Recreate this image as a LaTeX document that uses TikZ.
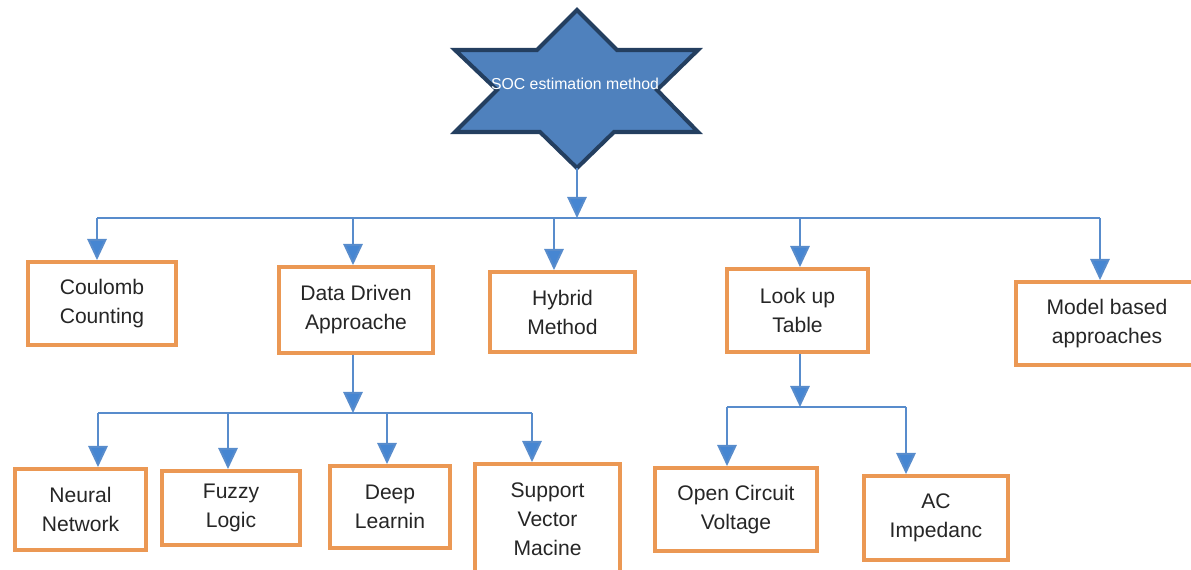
\documentclass[tikz,border=0pt]{standalone}
\usepackage{fontspec}
\setmainfont{Liberation Sans}
\usetikzlibrary{arrows.meta}
\definecolor{boxline}{RGB}{235,152,84}
\definecolor{linkblue}{RGB}{88,140,204}
\definecolor{tipblue}{RGB}{70,134,210}
\definecolor{starfill}{RGB}{79,129,189}
\definecolor{starline}{RGB}{36,63,96}
\begin{document}
\begin{tikzpicture}[x=0.02cm, y=-0.02cm,
  box/.style={draw=boxline, line width=2.2pt, fill=white, inner sep=0pt, align=center,
    minimum height=1.66cm, text=black!85, font=\fontsize{12}{16.5}\selectfont},
  link/.style={draw=linkblue, line width=1.1pt},
  arr/.style={link, -{Triangle[width=11pt, length=12pt, fill=tipblue]}}]
\useasboundingbox (0,0) rectangle (1191,570);

% the star on top
\draw[fill=starfill, draw=starline, line width=2.3pt]
  (577,10) -- (617,50) -- (698,50) -- (657,90) -- (698,132) -- (614,132) -- (577,168)
  -- (540,132) -- (455,132) -- (497,90) -- (455,50) -- (537,50) -- cycle;
\node[text=white, font=\fontsize{9}{11}\selectfont] (soc) at (575,84) {SOC estimation method};
\coordinate (socb) at (577,168);

% first level
\node[box, minimum width=2.96cm] (coul)  at (102,303.5)  {Coulomb\\ Counting};
\node[box, minimum width=3.08cm, minimum height=1.72cm] (data) at (356,310) {Data Driven\\ Approache};
\node[box, minimum width=2.90cm, minimum height=1.60cm] (hyb) at (562.5,312) {Hybrid\\ Method};
\node[box, minimum width=2.82cm] (look)  at (797.5,310.5) {Look up\\ Table};
\node[box, minimum width=3.64cm] (model) at (1107,323.5) {Model based\\ approaches};

% second level
\node[box, minimum width=2.62cm, minimum height=1.62cm] (neur) at (80.5,509.5) {Neural\\ Network};
\node[box, minimum width=2.76cm, minimum height=1.48cm] (fuzz) at (231,508)   {Fuzzy\\ Logic};
\node[box, minimum width=2.40cm, minimum height=1.64cm] (deep) at (390,507)   {Deep\\ Learnin};
\node[box, minimum width=2.90cm, minimum height=2.20cm] (svm)  at (547.5,519) {Support\\ Vector\\ Macine};
\node[box, minimum width=3.24cm] (ocv)   at (736,509.5) {Open Circuit\\ Voltage};
\node[box, minimum width=2.88cm, minimum height=1.68cm] (ac) at (936,518) {AC\\ Impedanc};

% main bus
\coordinate (b1) at (97,218);
\coordinate (b2) at (353,218);
\coordinate (b3) at (554,218);
\coordinate (b4) at (800,218);
\coordinate (b5) at (1100,218);
\draw[link] (b1) -- (b5);
\draw[arr] (socb) -- (socb |- b1);
\draw[arr] (b1) -- (b1 |- coul.north);
\draw[arr] (b2) -- (b2 |- data.north);
\draw[arr] (b3) -- (b3 |- hyb.north);
\draw[arr] (b4) -- (b4 |- look.north);
\draw[arr] (b5) -- (b5 |- model.north);

% data driven branch
\coordinate (d0) at (353,413);
\coordinate (d1) at (98,413);
\coordinate (d2) at (228,413);
\coordinate (d3) at (387,413);
\coordinate (d4) at (532,413);
\draw[link] (d1) -- (d4);
\draw[arr] (d0 |- data.south) -- (d0);
\draw[arr] (d1) -- (d1 |- neur.north);
\draw[arr] (d2) -- (d2 |- fuzz.north);
\draw[arr] (d3) -- (d3 |- deep.north);
\draw[arr] (d4) -- (d4 |- svm.north);

% look up branch
\coordinate (l0) at (800,407);
\coordinate (l1) at (727,407);
\coordinate (l2) at (906,407);
\draw[link] (l1) -- (l2);
\draw[arr] (l0 |- look.south) -- (l0);
\draw[arr] (l1) -- (l1 |- ocv.north);
\draw[arr] (l2) -- (l2 |- ac.north);
\end{tikzpicture}
\end{document}
